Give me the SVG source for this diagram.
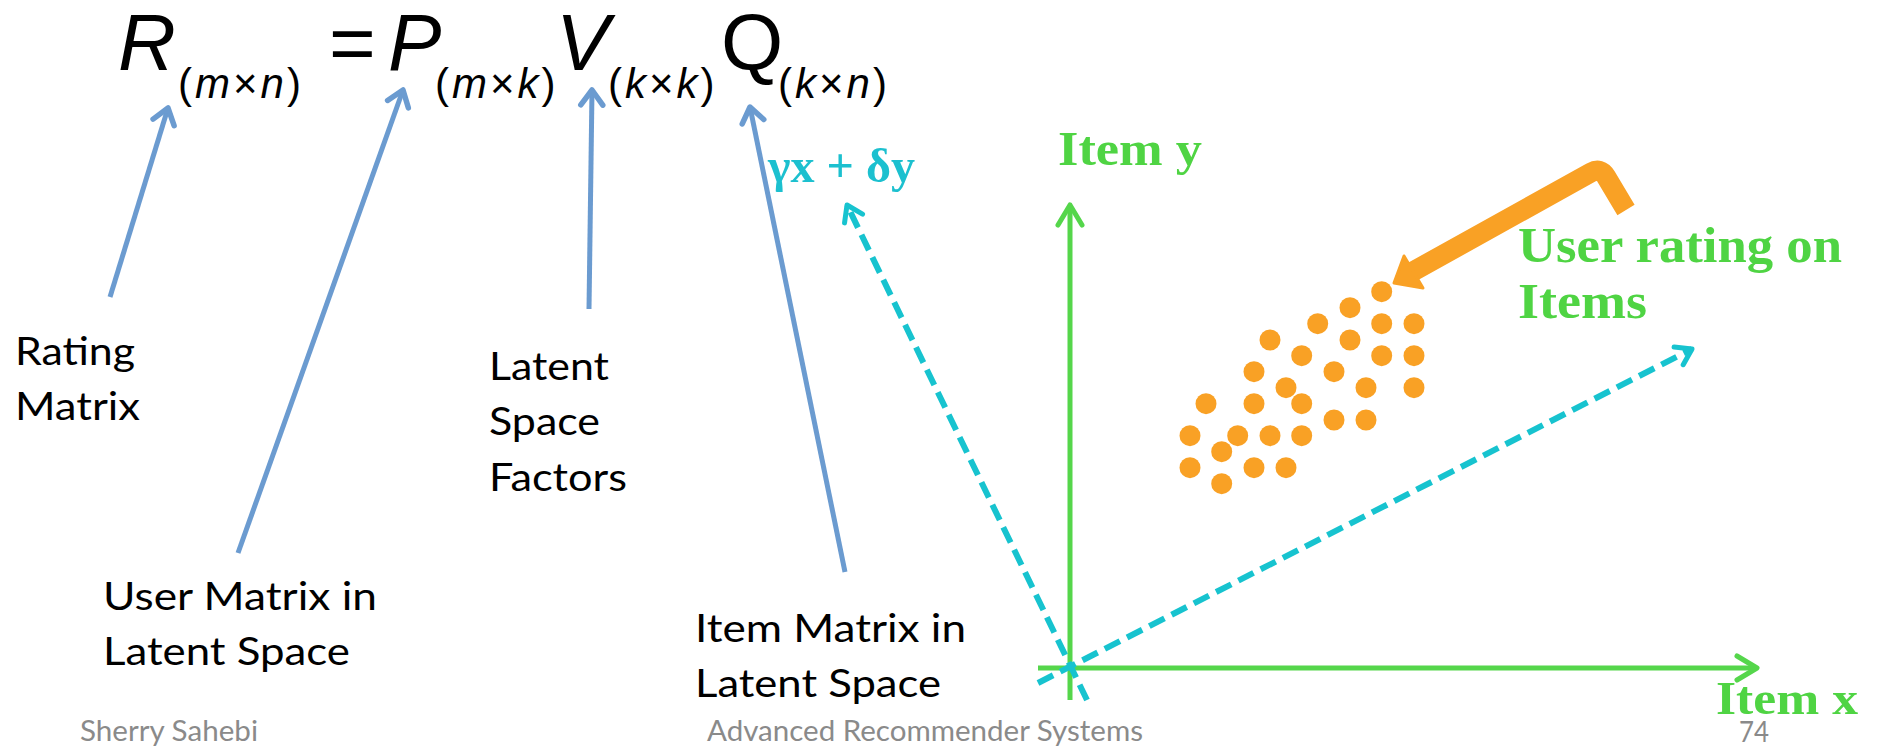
<svg xmlns="http://www.w3.org/2000/svg" width="1877" height="747" viewBox="0 0 1877 747">
<style>
.eq{font-family:"Liberation Sans",Arial,sans-serif;fill:#000;font-size:80px}
.sub{font-size:42px;letter-spacing:3px}
.it{font-style:italic}
.lbl{font-family:Lato,"Liberation Sans",sans-serif;font-size:39px;fill:#000}
.foot{font-family:Lato,"Liberation Sans",sans-serif;font-size:28px;fill:#8a8a8a}
.grn{font-family:"Liberation Serif","Times New Roman",serif;font-weight:bold;fill:#4fd443}
.cyt{font-family:"Liberation Serif","Times New Roman",serif;font-weight:bold;fill:#1cc0cf;font-size:48px}
.blue{stroke:#6b9bd0;stroke-width:5;fill:none;marker-end:url(#bh)}
.gax{stroke:#55d64b;stroke-width:5;fill:none;marker-end:url(#gh)}
.cyl{stroke:#17c3cf;stroke-width:6;fill:none;stroke-dasharray:17 8;marker-end:url(#ch)}
.dot{fill:#f9a125}
</style>
<defs>
<marker id="bh" markerUnits="userSpaceOnUse" viewBox="-20 -14 24 28" refX="0" refY="0" markerWidth="24" markerHeight="28" orient="auto" overflow="visible"><path d="M-15,-11 L0,0 L-15,11" fill="none" stroke="#6b9bd0" stroke-width="5.5" stroke-linecap="round" stroke-linejoin="round"/></marker>
<marker id="gh" markerUnits="userSpaceOnUse" viewBox="-24 -16 28 32" refX="0" refY="0" markerWidth="28" markerHeight="32" orient="auto" overflow="visible"><path d="M-20,-12 L0,0 L-20,12" fill="none" stroke="#55d64b" stroke-width="5" stroke-linecap="round" stroke-linejoin="round"/></marker>
<marker id="ch" markerUnits="userSpaceOnUse" viewBox="-20 -14 24 28" refX="0" refY="0" markerWidth="24" markerHeight="28" orient="auto" overflow="visible"><path d="M-15,-10 L0,0 L-15,10" fill="none" stroke="#17c3cf" stroke-width="5" stroke-linecap="round" stroke-linejoin="round"/></marker>
</defs>
<g id="equation">
<text class="eq"><tspan class="it" x="118" y="70">R</tspan><tspan class="sub" x="178" y="98">(<tspan class="it">m</tspan>×<tspan class="it">n</tspan>)</tspan><tspan x="329" y="70">=</tspan><tspan class="it" x="388" y="70">P</tspan><tspan class="sub" x="435" y="98">(<tspan class="it">m</tspan>×<tspan class="it">k</tspan>)</tspan><tspan class="it" x="556" y="70">V</tspan><tspan class="sub" x="608" y="98">(<tspan class="it">k</tspan>×<tspan class="it">k</tspan>)</tspan><tspan x="721" y="70">Q</tspan><tspan class="sub" x="778" y="98">(<tspan class="it">k</tspan>×<tspan class="it">n</tspan>)</tspan></text>
</g>
<g id="connectors">
<path class="blue" d="M110,297 L168,108"/>
<path class="blue" d="M238,553 L403,90"/>
<path class="blue" d="M589,309 L592,90"/>
<path class="blue" d="M845,572 L750,107"/>
<path class="gax" d="M1070,700 L1070,205"/>
<path class="gax" d="M1038,668 L1757,668"/>
<path class="cyl" d="M1087,700 L847,205"/>
<path class="cyl" d="M1038,683 L1692,349"/>
</g>
<g id="rating-matrix"><text class="lbl" x="15" y="365" textLength="120" lengthAdjust="spacingAndGlyphs">Rating</text><text class="lbl" x="15" y="420" textLength="125" lengthAdjust="spacingAndGlyphs">Matrix</text></g>
<g id="latent-factors"><text class="lbl" x="489" y="380" textLength="120" lengthAdjust="spacingAndGlyphs">Latent</text><text class="lbl" x="489" y="435" textLength="111" lengthAdjust="spacingAndGlyphs">Space</text><text class="lbl" x="489" y="491" textLength="138" lengthAdjust="spacingAndGlyphs">Factors</text></g>
<g id="user-matrix"><text class="lbl" x="103" y="610" textLength="274" lengthAdjust="spacingAndGlyphs">User Matrix in</text><text class="lbl" x="103" y="665" textLength="247" lengthAdjust="spacingAndGlyphs">Latent Space</text></g>
<g id="item-matrix"><text class="lbl" x="695" y="642" textLength="271" lengthAdjust="spacingAndGlyphs">Item Matrix in</text><text class="lbl" x="695" y="697" textLength="246" lengthAdjust="spacingAndGlyphs">Latent Space</text></g>
<g id="combo-label"><text class="cyt" x="768" y="182" textLength="147" lengthAdjust="spacingAndGlyphs">γx + δy</text></g>
<g id="item-y"><text class="grn" x="1058" y="165" font-size="48" textLength="144" lengthAdjust="spacingAndGlyphs">Item y</text></g>
<g id="item-x"><text class="grn" x="1716" y="714" font-size="47" textLength="142" lengthAdjust="spacingAndGlyphs">Item x</text></g>
<g id="user-rating-label"><text class="grn" x="1518" y="262" font-size="50" textLength="324" lengthAdjust="spacingAndGlyphs">User rating on</text><text class="grn" x="1518" y="318" font-size="50" textLength="129" lengthAdjust="spacingAndGlyphs">Items</text></g>
<g id="orange-arrow">
<path d="M1626,210 L1606,176.5 Q1600.6,167.3 1591,172.5 L1412,272" fill="none" stroke="#f9a125" stroke-width="20" stroke-linejoin="round"/>
<polygon points="1394,283 1404,256 1423,288" fill="#f9a125" stroke="#f9a125" stroke-width="3" stroke-linejoin="round"/>
</g>
<g id="ratings">
<circle class="dot" cx="1381.7" cy="291.7" r="10.5"/>
<circle class="dot" cx="1350" cy="307.7" r="10.5"/>
<circle class="dot" cx="1317.7" cy="323.7" r="10.5"/>
<circle class="dot" cx="1381.7" cy="323.7" r="10.5"/>
<circle class="dot" cx="1414" cy="323.7" r="10.5"/>
<circle class="dot" cx="1270" cy="340" r="10.5"/>
<circle class="dot" cx="1350" cy="340" r="10.5"/>
<circle class="dot" cx="1301.7" cy="355.7" r="10.5"/>
<circle class="dot" cx="1381.7" cy="355.7" r="10.5"/>
<circle class="dot" cx="1414" cy="355.7" r="10.5"/>
<circle class="dot" cx="1254" cy="371.7" r="10.5"/>
<circle class="dot" cx="1334" cy="371.7" r="10.5"/>
<circle class="dot" cx="1286" cy="387.7" r="10.5"/>
<circle class="dot" cx="1366" cy="387.7" r="10.5"/>
<circle class="dot" cx="1414" cy="387.7" r="10.5"/>
<circle class="dot" cx="1206" cy="403.7" r="10.5"/>
<circle class="dot" cx="1254" cy="403.7" r="10.5"/>
<circle class="dot" cx="1301.7" cy="403.7" r="10.5"/>
<circle class="dot" cx="1334" cy="420" r="10.5"/>
<circle class="dot" cx="1366" cy="420" r="10.5"/>
<circle class="dot" cx="1190" cy="435.7" r="10.5"/>
<circle class="dot" cx="1237.7" cy="435.7" r="10.5"/>
<circle class="dot" cx="1270" cy="435.7" r="10.5"/>
<circle class="dot" cx="1301.7" cy="435.7" r="10.5"/>
<circle class="dot" cx="1221.7" cy="451.7" r="10.5"/>
<circle class="dot" cx="1190" cy="467.7" r="10.5"/>
<circle class="dot" cx="1254" cy="467.7" r="10.5"/>
<circle class="dot" cx="1286" cy="467.7" r="10.5"/>
<circle class="dot" cx="1221.7" cy="483.7" r="10.5"/>
</g>
<g id="footer">
<text class="foot" x="80" y="741" textLength="178" lengthAdjust="spacingAndGlyphs">Sherry Sahebi</text>
<text class="foot" x="707" y="741" textLength="436" lengthAdjust="spacingAndGlyphs">Advanced Recommender Systems</text>
<text class="foot" x="1739" y="742" textLength="30" lengthAdjust="spacingAndGlyphs">74</text>
</g>
</svg>
